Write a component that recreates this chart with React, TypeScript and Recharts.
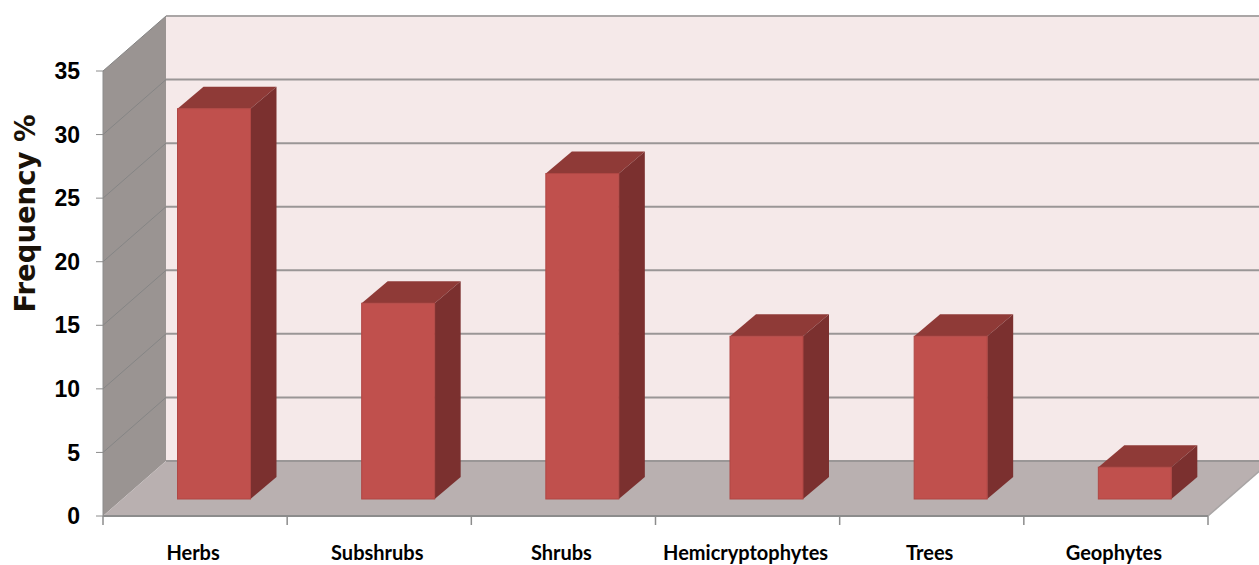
import { BarChart, Bar, XAxis, YAxis, usePlotArea } from "recharts";

const categories = ["Herbs", "Subshrubs", "Shrubs", "Hemicryptophytes", "Trees", "Geophytes"];
const frequency = [30.7, 15.4, 25.6, 12.8, 12.8, 2.5];
const yTicks = [0, 5, 10, 15, 20, 25, 30, 35];
const yMax = 35;

const data = categories.map((name, i) => ({ name, frequency: frequency[i] }));

// the "3D" look: how far the back wall sits from the front plane, and the bars' place in it
const WALL_DX = 63;
const WALL_DY = -55;
const BAR_SHIFT_X = 18.5;
const BAR_SHIFT_Y = -17;
const BAR_DX = 26;
const BAR_DY = -22;

function Walls() {
  const plot = usePlotArea();
  if (!plot) return null;
  const left = plot.x;
  const right = plot.x + plot.width;
  const top = plot.y;
  const bottom = plot.y + plot.height;
  const step = plot.width / categories.length;
  return (
    <g>
      <rect x={left + WALL_DX} y={top + WALL_DY} width={1259 - left - WALL_DX} height={plot.height} fill="#f5e9e9" />
      <polygon
        points={`${left},${top} ${left + WALL_DX},${top + WALL_DY} ${left + WALL_DX},${bottom + WALL_DY} ${left},${bottom}`}
        fill="#9a9492"
      />
      <polygon
        points={`${left},${bottom} ${left + WALL_DX},${bottom + WALL_DY} ${right + WALL_DX},${bottom + WALL_DY} ${right},${bottom}`}
        fill="#b9b0b0"
      />
      {yTicks.map((v) => {
        const y = bottom - (v / yMax) * plot.height;
        return (
          <g key={v}>
            {v > 0 && <line x1={left} y1={y} x2={left + WALL_DX} y2={y + WALL_DY} stroke="#858585" strokeWidth={1} />}
            <line
              x1={left + WALL_DX}
              y1={y + WALL_DY}
              x2={1259}
              y2={y + WALL_DY}
              stroke={v === yMax ? "#aaa6a6" : "#9a9696"}
              strokeWidth={2}
            />
          </g>
        );
      })}
      {categories.map((_, i) => (
        <line key={i} x1={left + step * i} y1={bottom} x2={left + step * i} y2={bottom + 9} stroke="#8c8c8c" strokeWidth={1.5} />
      ))}
      <line x1={right} y1={bottom} x2={right} y2={bottom + 9} stroke="#8c8c8c" strokeWidth={1.5} />
      <line x1={right} y1={bottom} x2={right + WALL_DX} y2={bottom + WALL_DY} stroke="#a8a4a4" strokeWidth={1.5} />
    </g>
  );
}

function Bar3D(props: any) {
  const { x, y, width, height } = props;
  const l = x + BAR_SHIFT_X;
  const r = l + width;
  const t = y + BAR_SHIFT_Y;
  const b = t + height;
  return (
    <g>
      <polygon points={`${l},${t} ${l + BAR_DX},${t + BAR_DY} ${r + BAR_DX},${t + BAR_DY} ${r},${t}`} fill="#8f3a37" />
      <polygon points={`${r},${t} ${r + BAR_DX},${t + BAR_DY} ${r + BAR_DX},${b + BAR_DY} ${r},${b}`} fill="#7b302f" />
      <rect x={l} y={t} width={width} height={height} fill="#c0504d" stroke="#b04744" strokeWidth={1} />
    </g>
  );
}

export default function App() {
  return (
    <div style={{ position: "absolute", left: 0, top: 0, width: 1259, height: 565, background: "#fff", overflow: "hidden" }}>
      <BarChart width={1259} height={565} data={data} margin={{ top: 71, right: 51, bottom: 0, left: 54 }} barCategoryGap={0}>
        <Walls />
        <XAxis
          dataKey="name"
          interval={0}
          height={49}
          axisLine={{ stroke: "#8c8c8c", strokeWidth: 2 }}
          tickLine={false}
          tickMargin={24}
          tick={{ fill: "#000", fontSize: 20, fontWeight: 700, fontFamily: "Lato", dx: -2 }}
        />
        <YAxis
          width={49}
          domain={[0, yMax]}
          ticks={yTicks}
          interval={0}
          axisLine={{ stroke: "#8c8c8c" }}
          tickLine={{ stroke: "#8c8c8c" }}
          tickSize={7}
          tickMargin={16}
          tick={{ fill: "#000", fontSize: 23, fontWeight: 700, fontFamily: "Liberation Sans" }}
          label={{
            value: "Frequency %",
            angle: -90,
            position: "insideLeft",
            dx: -34,
            dy: -80,
            style: { fontSize: 27.5, fontWeight: 700, fontFamily: "DejaVu Sans", fill: "#1a1208", textAnchor: "middle" },
          }}
        />
        <Bar dataKey="frequency" barSize={73} shape={Bar3D} isAnimationActive={false} />
      </BarChart>
    </div>
  );
}
